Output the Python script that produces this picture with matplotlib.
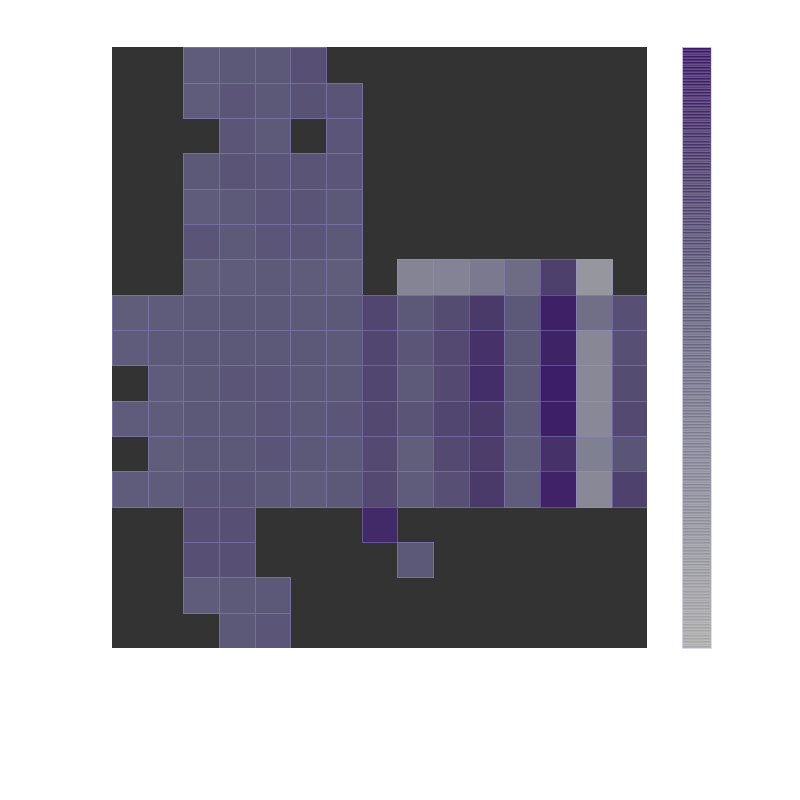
import matplotlib

matplotlib.use("Agg")
import matplotlib.pyplot as plt
import numpy as np
from matplotlib.colors import LinearSegmentedColormap, Normalize

N = np.nan

# values per row, top to bottom (NaN = empty cell)
row_values = [
    [N, N, 0.58, 0.60, 0.60, 0.66, N, N, N, N, N, N, N, N, N],
    [N, N, 0.58, 0.61, 0.60, 0.64, 0.62, N, N, N, N, N, N, N, N],
    [N, N, N, 0.61, 0.59, N, 0.61, N, N, N, N, N, N, N, N],
    [N, N, 0.60, 0.62, 0.61, 0.62, 0.61, N, N, N, N, N, N, N, N],
    [N, N, 0.58, 0.59, 0.61, 0.62, 0.60, N, N, N, N, N, N, N, N],
    [N, N, 0.62, 0.59, 0.61, 0.61, 0.60, N, N, N, N, N, N, N, N],
    [N, N, 0.57, 0.58, 0.59, 0.58, 0.57, N, 0.30, 0.31, 0.38, 0.47, 0.76, 0.15, N],
    [0.57, 0.58, 0.59, 0.60, 0.60, 0.59, 0.60, 0.72, 0.60, 0.68, 0.80, 0.60, 0.95, 0.45, 0.66],
    [0.58, 0.59, 0.60, 0.60, 0.60, 0.60, 0.59, 0.72, 0.61, 0.70, 0.85, 0.60, 0.93, 0.28, 0.66],
    [N, 0.58, 0.60, 0.61, 0.61, 0.60, 0.60, 0.72, 0.59, 0.70, 0.87, 0.60, 0.97, 0.27, 0.68],
    [0.58, 0.58, 0.60, 0.60, 0.61, 0.60, 0.61, 0.71, 0.62, 0.72, 0.80, 0.59, 0.96, 0.27, 0.70],
    [N, 0.57, 0.60, 0.60, 0.62, 0.60, 0.59, 0.70, 0.56, 0.70, 0.78, 0.58, 0.85, 0.33, 0.62],
    [0.58, 0.58, 0.61, 0.61, 0.60, 0.58, 0.60, 0.70, 0.58, 0.66, 0.80, 0.58, 0.94, 0.27, 0.75],
    [N, N, 0.66, 0.66, N, N, N, 0.90, N, N, N, N, N, N, N],
    [N, N, 0.66, 0.66, N, N, N, N, 0.60, N, N, N, N, N, N],
    [N, N, 0.58, 0.59, 0.60, N, N, N, N, N, N, N, N, N, N],
    [N, N, N, 0.60, 0.61, N, N, N, N, N, N, N, N, N, N],
]

cmap = LinearSegmentedColormap.from_list(
    "grey_purple",
    [
        (0.0, "#a8a8a8"),
        (0.35, "#7e7e92"),
        (0.6, "#5c5878"),
        (0.8, "#4a3a6a"),
        (1.0, "#3a1866"),
    ],
)
norm = Normalize(vmin=0.0, vmax=1.0)

values = np.array(row_values, dtype=float)
data = np.ma.masked_invalid(values)
n_rows, n_cols = data.shape

fig = plt.figure(figsize=(8, 8), dpi=100)
ax = fig.add_axes([0.14, 0.19, 0.669, 0.751])
ax.set_facecolor("#333333")
mesh = ax.pcolormesh(
    np.arange(n_cols + 1),
    np.arange(n_rows + 1),
    data,
    cmap=cmap,
    norm=norm,
    linewidth=0.6,
)
# thin light edges only around filled cells
edge_colors = np.zeros((values.size, 4))
edge_colors[:, :3] = (0.62, 0.58, 0.88)
edge_colors[:, 3] = np.where(np.isnan(values.ravel()), 0.0, 0.4)
mesh.set_edgecolor(edge_colors)

ax.set_xlim(0, n_cols)
ax.set_ylim(n_rows, 0)
ax.set_xticks([])
ax.set_yticks([])
for spine in ax.spines.values():
    spine.set_visible(False)

# colour bar, faintly striped like the original
cax = fig.add_axes([0.8525, 0.19, 0.0365, 0.751])
sm = plt.cm.ScalarMappable(norm=norm, cmap=cmap)
cbar = fig.colorbar(sm, cax=cax, boundaries=np.linspace(0.0, 1.0, 220))
cbar.solids.set_edgecolor((1, 1, 1, 0.12))
cbar.solids.set_linewidth(0.3)
cbar.outline.set_edgecolor("#d8d4ec")
cbar.outline.set_linewidth(0.6)
cbar.set_ticks([])

fig.savefig("out.png", dpi=100)
